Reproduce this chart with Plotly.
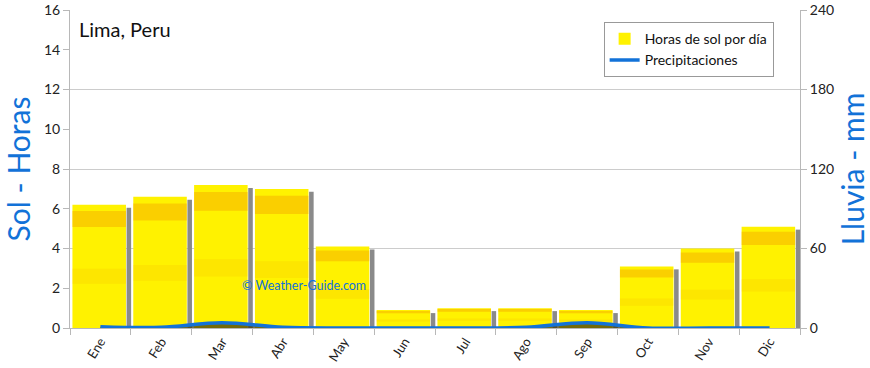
import plotly.graph_objects as go

months = ["Ene", "Feb", "Mar", "Abr", "May", "Jun", "Jul", "Ago", "Sep", "Oct", "Nov", "Dic"]
sun_hours = [6.2, 6.6, 7.2, 7.0, 4.1, 0.9, 1.0, 1.0, 0.9, 3.1, 4.0, 5.1]
rain_mm = [1, 0.5, 4, 0.5, 0, 0, 0, 0.5, 4, 0, 0, 0]
left_ticks = [0, 2, 4, 6, 8, 10, 12, 14, 16]
right_ticks = [0, 60, 120, 180, 240]

FONT = "Lato"
BLUE = "#1272d8"

fig = go.Figure()

# shadow strips
fig.add_trace(go.Bar(
    x=months, y=[max(v - 0.15, 0) for v in sun_hours],
    width=0.075, offset=0.43,
    marker=dict(color="#8a8a8a", line=dict(width=0)),
    showlegend=False, hoverinfo="skip",
))
# main yellow bars
fig.add_trace(go.Bar(
    x=months, y=sun_hours, name="Horas de sol por día",
    width=0.88, offset=-0.46,
    marker=dict(color="#FFF200", line=dict(width=0)),
))
# orange band near top of bars
fig.add_trace(go.Bar(
    x=months, y=[v * 0.13 for v in sun_hours], base=[v * 0.82 for v in sun_hours],
    width=0.88, offset=-0.46,
    marker=dict(color="rgba(245,165,0,0.45)", line=dict(width=0)),
    showlegend=False, hoverinfo="skip",
))
# faint lower streak
fig.add_trace(go.Bar(
    x=months, y=[v * 0.12 for v in sun_hours], base=[v * 0.36 for v in sun_hours],
    width=0.88, offset=-0.46,
    marker=dict(color="rgba(245,185,0,0.22)", line=dict(width=0)),
    showlegend=False, hoverinfo="skip",
))
# precipitation fill (no legend)
fig.add_trace(go.Scatter(
    x=months, y=rain_mm, yaxis="y2",
    mode="lines", line=dict(color="rgba(0,0,0,0)", width=0, shape="spline"),
    fill="tozeroy", fillcolor="rgba(70,60,10,0.75)",
    showlegend=False, hoverinfo="skip",
))
# precipitation line
fig.add_trace(go.Scatter(
    x=months, y=rain_mm, name="Precipitaciones", yaxis="y2",
    mode="lines", line=dict(color=BLUE, width=3.5, shape="spline"),
))

fig.update_layout(
    width=870, height=368,
    margin=dict(l=70, r=70, t=10, b=40),
    paper_bgcolor="white", plot_bgcolor="white",
    barmode="overlay",
    font=dict(family=FONT, size=13, color="#222"),
    showlegend=True,
    legend=dict(
        x=0.731, y=0.962, xanchor="left", yanchor="top",
        bordercolor="#999", borderwidth=1, bgcolor="white",
        font=dict(size=14, family=FONT, color="#111"),
        itemwidth=30, tracegroupgap=4,
    ),
    xaxis=dict(
        type="category", categoryorder="array", categoryarray=months,
        range=[-0.5, 11.5], automargin=False,
        showgrid=False, showline=True, linecolor="#b8b8b8", linewidth=1,
        ticks="outside", tickson="boundaries", ticklen=6, tickcolor="#b8b8b8",
        tickangle=-58, tickfont=dict(size=13, family=FONT, color="#222"),
    ),
    yaxis=dict(
        range=[0, 16], tickvals=left_ticks, automargin=False,
        showgrid=False, zeroline=False,
        showline=True, linecolor="#b8b8b8", linewidth=1,
        ticks="outside", ticklen=6, tickcolor="#b8b8b8",
        tickfont=dict(size=14, family=FONT, color="#222"),
        title=dict(text="Sol - Horas", font=dict(size=30, family=FONT, color=BLUE), standoff=12),
    ),
    yaxis2=dict(
        range=[0, 240], tickvals=right_ticks, overlaying="y", side="right",
        automargin=False,
        showgrid=True, gridcolor="#cccccc", gridwidth=1, zeroline=False,
        showline=True, linecolor="#b8b8b8", linewidth=1,
        ticks="outside", ticklen=6, tickcolor="#b8b8b8",
        tickfont=dict(size=14, family=FONT, color="#222"),
        title=dict(text="Lluvia - mm", font=dict(size=30, family=FONT, color=BLUE), standoff=8),
    ),
    annotations=[
        dict(text="Lima, Peru", xref="paper", yref="paper", x=0.01, y=0.985,
             xanchor="left", yanchor="top", showarrow=False,
             font=dict(size=20, family=FONT, color="#111")),
        dict(text="© Weather-Guide.com", xref="paper", yref="paper", x=0.32, y=0.133,
             xanchor="center", yanchor="middle", showarrow=False,
             font=dict(size=12.5, family=FONT, color=BLUE)),
    ],
)

fig.write_html("out.html")
